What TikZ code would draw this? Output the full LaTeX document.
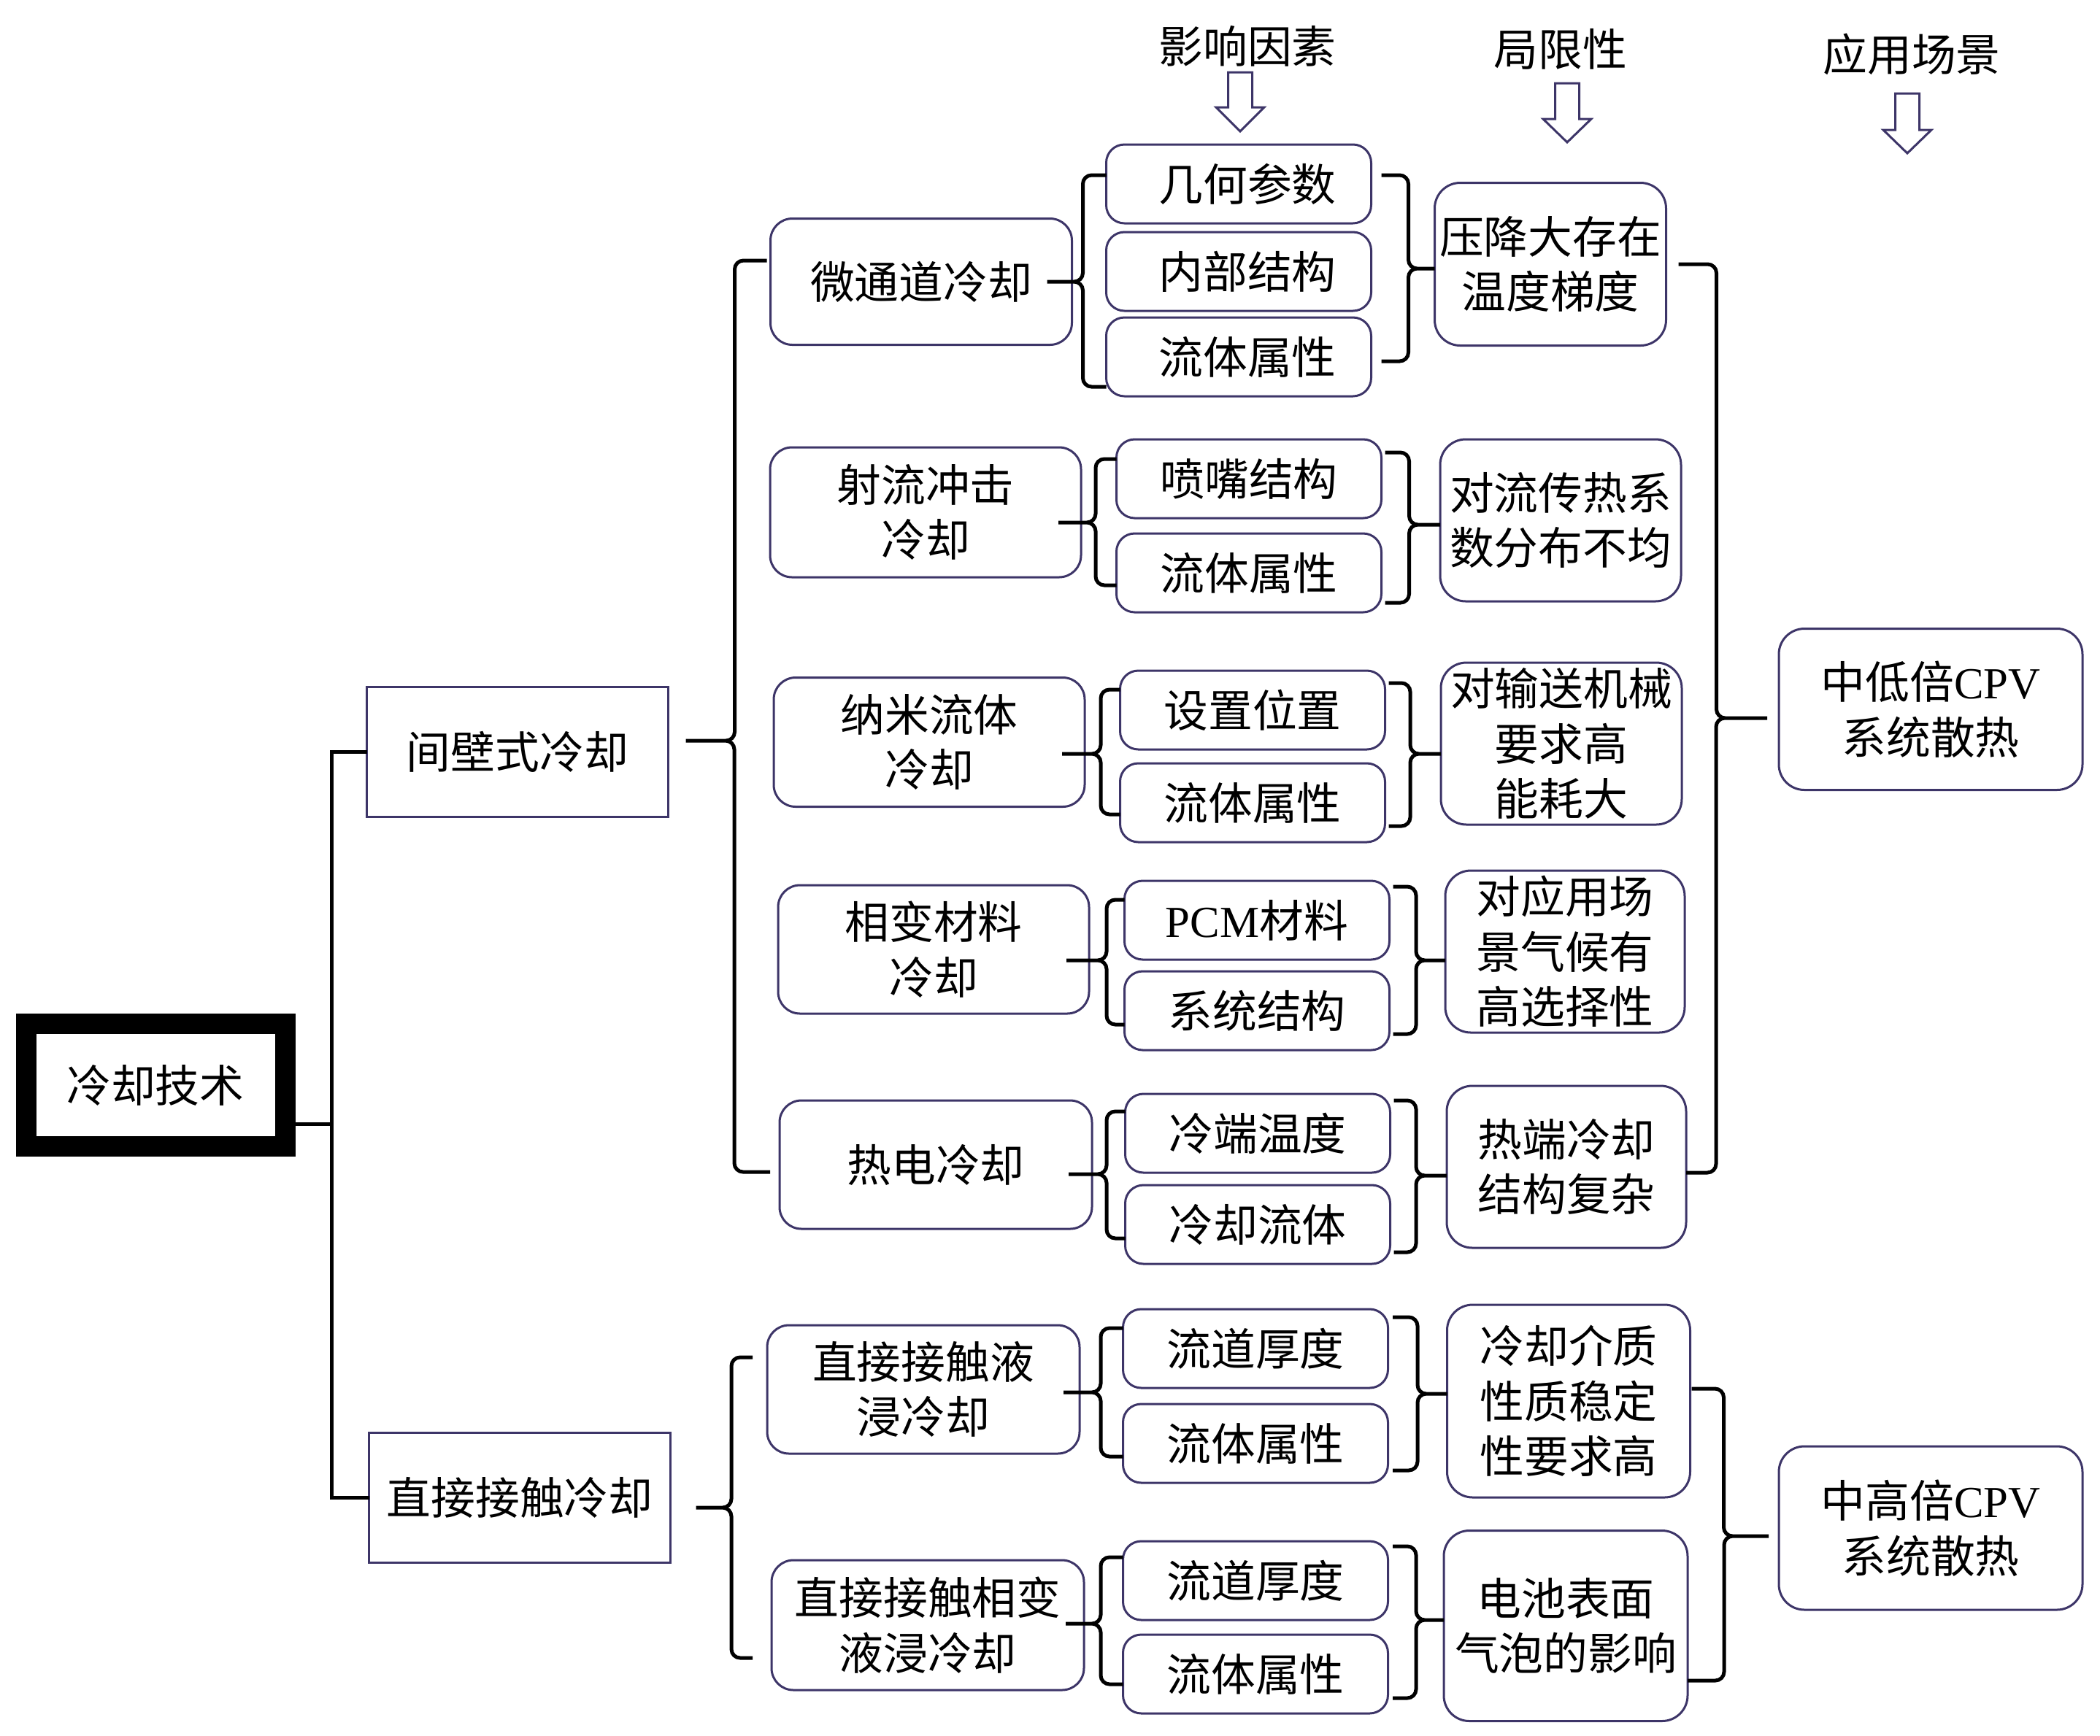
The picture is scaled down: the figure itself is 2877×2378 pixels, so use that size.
\documentclass[tikz,border=0pt]{standalone}
\usepackage{fontspec}
\setmainfont{Noto Sans CJK SC}
\newfontfamily\latinserif{Liberation Serif}
\definecolor{boxpurple}{HTML}{3D3568}

\begin{document}
\begin{tikzpicture}[x=0.1mm, y=-0.1mm,
    every node/.style={font=\fontsize{17.3}{21.5}\selectfont, inner sep=0pt, outer sep=0pt, align=center},
    rootbox/.style={draw=black, line width=2.8mm, minimum width=35.5mm, minimum height=16.8mm},
    groupbox/.style={draw=boxpurple, line width=0.3mm, minimum width=41.3mm, minimum height=17.8mm},
    methodbox/.style={draw=boxpurple, line width=0.3mm, rounded corners=3mm, minimum width=42.6mm, minimum height=17.6mm},
    factorbox/.style={draw=boxpurple, line width=0.3mm, rounded corners=2.5mm, minimum width=36.3mm, minimum height=10.8mm},
    limitbox/.style={draw=boxpurple, line width=0.3mm, rounded corners=3.5mm, minimum width=33mm, minimum height=22.2mm},
    scenebox/.style={draw=boxpurple, line width=0.3mm, rounded corners=3.5mm, minimum width=41.6mm, minimum height=22.2mm},
    fork/.style={draw=black, line width=0.5mm, rounded corners=1.2mm},
    trunk/.style={draw=black, line width=0.5mm},
    hollowarrow/.style={draw=boxpurple, line width=0.3mm, fill=white}]

        \useasboundingbox (0,0) rectangle (2877,2378);

        % Column headings
        \node (hd1) at (1709,63) {影响因素};
        \node (hd2) at (2138,67) {局限性};
        \node (hd3) at (2619,74) {应用场景};

        % Hollow arrows under the headings
        \draw[hollowarrow] (1682.5,99) -- (1715.5,99) -- (1715.5,147) -- (1732,147) -- (1699,180) -- (1666,147) -- (1682.5,147) -- cycle;
        \draw[hollowarrow] (2130.5,114) -- (2163.5,114) -- (2163.5,163) -- (2180,163) -- (2147,195) -- (2114,163) -- (2130.5,163) -- cycle;
        \draw[hollowarrow] (2596.5,128) -- (2629.5,128) -- (2629.5,178) -- (2646,178) -- (2613,210) -- (2580,178) -- (2596.5,178) -- cycle;

        % Root and the two kinds
        \node[rootbox] (root) at (213,1487) {冷却技术};
        \node[groupbox] (jb) at (709,1030) {间壁式冷却};
        \node[groupbox] (zj) at (712,2052) {直接接触冷却};

        % Cooling methods
        \node[methodbox, minimum width=41.3mm, minimum height=17.3mm] (m1) at (1262,386) {微通道冷却};
        \node[methodbox, minimum height=17.8mm] (m2) at (1268,702) {射流冲击\\冷却};
        \node[methodbox, minimum height=17.7mm] (m3) at (1273,1017) {纳米流体\\冷却};
        \node[methodbox] (m4) at (1279,1301) {相变材料\\冷却};
        \node[methodbox, minimum width=42.8mm] (m5) at (1282,1596) {热电冷却};
        \node[methodbox, minimum width=42.8mm, minimum height=17.6mm] (m6) at (1265,1904) {直接接触液\\浸冷却};
        \node[methodbox, minimum width=42.8mm, minimum height=17.8mm] (m7) at (1271,2227) {直接接触相变\\液浸冷却};

        % Influencing factors
        \node[factorbox] (f11) at (1697,252) {\hspace*{2.4mm}几何参数};
        \node[factorbox] (f12) at (1697,372) {\hspace*{2.4mm}内部结构};
        \node[factorbox] (f13) at (1697,489) {\hspace*{2.4mm}流体属性};
        \node[factorbox] (f21) at (1711,656) {喷嘴结构};
        \node[factorbox] (f22) at (1711,785) {流体属性};
        \node[factorbox] (f31) at (1716,973) {设置位置};
        \node[factorbox] (f32) at (1716,1100) {流体属性};
        \node[factorbox] (f41) at (1722,1261) {{\latinserif PCM}材料};
        \node[factorbox] (f42) at (1722,1385) {系统结构};
        \node[factorbox] (f51) at (1723,1553) {冷端温度};
        \node[factorbox] (f52) at (1723,1678) {冷却流体};
        \node[factorbox] (f61) at (1720,1848) {流道厚度};
        \node[factorbox] (f62) at (1720,1978) {流体属性};
        \node[factorbox] (f71) at (1720,2166) {流道厚度};
        \node[factorbox] (f72) at (1720,2294) {流体属性};

        % Limitations
        \node[limitbox, minimum width=31.7mm, minimum height=22.3mm] (l1) at (2124,362) {压降大存在\\温度梯度};
        \node[limitbox] (l2) at (2138,713) {对流传热系\\数分布不均};
        \node[limitbox] (l3) at (2139,1019) {对输送机械\\要求高\\能耗大};
        \node[limitbox, minimum width=32.8mm] (l4) at (2144,1304) {对应用场\\景气候有\\高选择性};
        \node[limitbox, minimum width=32.8mm] (l5) at (2146,1599) {热端冷却\\结构复杂};
        \node[limitbox, minimum width=33.3mm, minimum height=26.4mm] (l6) at (2149,1920) {冷却介质\\性质稳定\\性要求高};
        \node[limitbox, minimum width=33.4mm, minimum height=26.1mm] (l7) at (2145,2228) {电池表面\\气泡的影响};

        % Application scenes
        \node[scenebox, minimum height=22.1mm] (s1) at (2645,972) {中低倍{\latinserif CPV}\\系统散热};
        \node[scenebox, minimum height=22.4mm] (s2) at (2645,2094) {中高倍{\latinserif CPV}\\系统散热};

        % Root to the two kinds
        \draw[trunk] (jb.west) -- ++(-48,0) |- (zj.west);
        \draw[trunk] ([yshift=-5.3mm]root.east) -- ++(64,0);

        % Kinds to methods
        \draw[fork] ([xshift=-0.5mm,yshift=2.9mm]m1.west) -- ++(-44,0) |- ([xshift=2.4mm,yshift=1.5mm]jb.east)
                    ([xshift=-1.3mm,yshift=-1mm]m5.west) -- ++(-49,0) |- ([xshift=2.4mm,yshift=1.5mm]jb.east);
        \draw[fork] ([xshift=-2mm,yshift=4.4mm]m6.west) -- ++(-29,0) |- ([xshift=3.5mm,yshift=-1.4mm]zj.east)
                    ([xshift=-2.6mm,yshift=-4.5mm]m7.west) -- ++(-29,0) |- ([xshift=3.5mm,yshift=-1.4mm]zj.east);

        % Methods to factors
        \draw[fork] ([yshift=-4.2mm]f11.north west) -- ++(-32,0) |- ([xshift=-3.4mm]m1.east)
                    ([yshift=1.3mm]f13.south west) -- ++(-32,0) |- ([xshift=-3.4mm]m1.east);
        \draw[fork] ([yshift=-2.7mm]f21.north west) -- ++(-28.5,0) |- ([xshift=-3.1mm,yshift=-1.4mm]m2.east)
                    ([yshift=3.7mm]f22.south west) -- ++(-28.5,0) |- ([xshift=-3.1mm,yshift=-1.4mm]m2.east);
        \draw[fork] ([yshift=-2.6mm]f31.north west) -- ++(-26.5,0) |- ([xshift=-3.1mm,yshift=-1.6mm]m3.east)
                    ([yshift=3.8mm]f32.south west) -- ++(-26.5,0) |- ([xshift=-3.1mm,yshift=-1.6mm]m3.east);
        \draw[fork] ([yshift=-2.6mm]f41.north west) -- ++(-24.5,0) |- ([xshift=-3.1mm,yshift=-1.5mm]m4.east)
                    ([yshift=3.5mm]f42.south west) -- ++(-24.5,0) |- ([xshift=-3.1mm,yshift=-1.5mm]m4.east);
        \draw[fork] ([yshift=-2.4mm]f51.north west) -- ++(-25.5,0) |- ([xshift=-3.2mm,yshift=-1.3mm]m5.east)
                    ([yshift=3.5mm]f52.south west) -- ++(-25.5,0) |- ([xshift=-3.2mm,yshift=-1.3mm]m5.east);
        \draw[fork] ([yshift=-2.6mm]f61.north west) -- ++(-30.5,0) |- ([xshift=-2.2mm,yshift=-0.4mm]m6.east)
                    ([yshift=3.6mm]f62.south west) -- ++(-30.5,0) |- ([xshift=-2.2mm,yshift=-0.4mm]m6.east);
        \draw[fork] ([yshift=-2.2mm]f71.north west) -- ++(-30.5,0) |- ([xshift=-2.5mm,yshift=0.2mm]m7.east)
                    ([yshift=4mm]f72.south west) -- ++(-30.5,0) |- ([xshift=-2.5mm,yshift=0.2mm]m7.east);

        % Factors to limitations
        \draw[fork] ([xshift=1.4mm,yshift=-4.2mm]f11.north east) -- ++(37,0) |- ([yshift=-0.6mm]l1.west)
                    ([xshift=1.4mm,yshift=4.8mm]f13.south east) -- ++(37,0) |- ([yshift=-0.6mm]l1.west);
        \draw[fork] ([xshift=0.5mm,yshift=-1.8mm]f21.north east) -- ++(33,0) |- ([yshift=-0.6mm]l2.west)
                    ([xshift=0.5mm,yshift=1.3mm]f22.south east) -- ++(33,0) |- ([yshift=-0.6mm]l2.west);
        \draw[fork] ([xshift=0.5mm,yshift=-1.7mm]f31.north east) -- ++(29.5,0) |- ([yshift=-1.4mm]l3.west)
                    ([xshift=0.5mm,yshift=2.2mm]f32.south east) -- ++(29.5,0) |- ([yshift=-1.4mm]l3.west);
        \draw[fork] ([xshift=0.5mm,yshift=-0.8mm]f41.north east) -- ++(31.5,0) |- ([yshift=-1.2mm]l4.west)
                    ([xshift=0.5mm,yshift=2.2mm]f42.south east) -- ++(31.5,0) |- ([yshift=-1.2mm]l4.west);
        \draw[fork] ([xshift=0.5mm,yshift=-0.9mm]f51.north east) -- ++(30.5,0) |- ([yshift=-1.2mm]l5.west)
                    ([xshift=0.5mm,yshift=1.6mm]f52.south east) -- ++(30.5,0) |- ([yshift=-1.2mm]l5.west);
        \draw[fork] ([xshift=0.65mm,yshift=-1.1mm]f61.north east) -- ++(34,0) |- ([yshift=1mm]l6.west)
                    ([xshift=0.65mm,yshift=1.7mm]f62.south east) -- ++(34,0) |- ([yshift=1mm]l6.west);
        \draw[fork] ([xshift=0.65mm,yshift=-0.7mm]f71.north east) -- ++(32,0) |- ([yshift=0.8mm]l7.west)
                    ([xshift=0.65mm,yshift=2.1mm]f72.south east) -- ++(32,0) |- ([yshift=0.8mm]l7.west);

        % Limitations to application scenes
        \draw[fork] ([xshift=1.7mm]l1.east) -- ++(52,0) |- ([xshift=-1.6mm,yshift=-1.2mm]s1.west)
                    ([yshift=-0.8mm]l5.east) -- ++(41,0) |- ([xshift=-1.6mm,yshift=-1.2mm]s1.west);
        \draw[fork] ([xshift=0.2mm,yshift=1.7mm]l6.east) -- ++(44,0) |- ([xshift=-1.4mm,yshift=-1.1mm]s2.west)
                    ([yshift=-7.5mm]l7.east) -- ++(50,0) |- ([xshift=-1.4mm,yshift=-1.1mm]s2.west);
\end{tikzpicture}
\end{document}
